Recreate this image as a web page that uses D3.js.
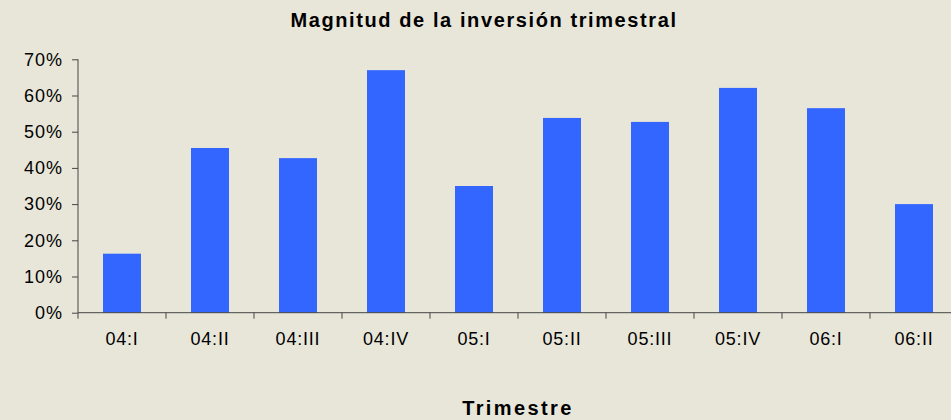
<!DOCTYPE html>
<html>
<head>
<meta charset="utf-8">
<script src="https://cdn.jsdelivr.net/npm/d3@7"></script>
<style>
  body { margin: 0; background: #e8e6d9; }
  svg { display: block; }
  text { font-family: "Liberation Sans", Arial, sans-serif; fill: #000; }
</style>
</head>
<body>
<svg id="chart"></svg>
<script>
// data
const categories = ['04:I', '04:II', '04:III', '04:IV', '05:I', '05:II', '05:III', '05:IV', '06:I', '06:II'];
const values = [0.163, 0.455, 0.427, 0.670, 0.350, 0.538, 0.527, 0.621, 0.565, 0.300];
const yTicks = [0, 0.1, 0.2, 0.3, 0.4, 0.5, 0.6, 0.7];
const title = 'Magnitud de la inversión trimestral';
const xTitle = 'Trimestre';

// set up constants
const width = 951;
const height = 420;
const margin = { top: 59.3, left: 78, bottom: 107.3 };
const step = 88;

const svg = d3.select('#chart')
  .attr('width', width)
  .attr('height', height);

svg.append('rect')
  .attr('width', width)
  .attr('height', height)
  .attr('fill', '#e8e6d9');

// scales (plot runs past the right edge, like the original)
const xBand = d3.scaleBand()
  .domain(categories)
  .range([margin.left, margin.left + step * categories.length])
  .paddingInner(50 / 88)
  .paddingOuter(25 / 88);

const xEdge = d3.scaleBand()
  .domain(categories)
  .range([margin.left, margin.left + step * categories.length]);

const yScale = d3.scaleLinear()
  .domain([0, 0.7])
  .range([height - margin.bottom, margin.top]);

// bars
svg.selectAll('.bar')
  .data(values)
  .enter()
  .append('rect')
  .attr('class', 'bar')
  .attr('x', (d, i) => xBand(categories[i]))
  .attr('width', xBand.bandwidth())
  .attr('y', d => yScale(d))
  .attr('height', d => yScale(0) - yScale(d))
  .attr('fill', '#3366ff');

// y axis
const yAxis = d3.axisLeft(yScale)
  .tickValues(yTicks)
  .tickFormat(d3.format('.0%'))
  .tickSize(6)
  .tickPadding(9);

const gy = svg.append('g')
  .attr('transform', `translate(${margin.left},0)`)
  .call(yAxis);
gy.select('.domain').attr('stroke', '#444').attr('d', `M0,${yScale(0)}V${yScale(0.7)}`);
gy.selectAll('.tick line').attr('stroke', '#444');
gy.selectAll('.tick text')
  .attr('font-size', 18)
  .attr('letter-spacing', 1)
  .attr('fill', '#000');

// x axis: labels at centres, ticks at category edges
const xAxis = d3.axisBottom(xBand)
  .tickSize(0)
  .tickPadding(20);

const gx = svg.append('g')
  .attr('transform', `translate(0,${yScale(0)})`)
  .call(xAxis);
gx.select('.domain').attr('stroke', '#444').attr('d', `M${margin.left},0H${width}`);
gx.selectAll('.tick text')
  .attr('font-size', 18)
  .attr('letter-spacing', 0.8)
  .attr('fill', '#000');

gx.selectAll('.edge')
  .data(categories)
  .enter()
  .append('line')
  .attr('class', 'edge')
  .attr('x1', d => xEdge(d))
  .attr('x2', d => xEdge(d))
  .attr('y1', 0)
  .attr('y2', 6)
  .attr('stroke', '#444');

// titles
svg.append('text')
  .attr('x', 484)
  .attr('y', 27)
  .attr('text-anchor', 'middle')
  .attr('font-size', 20)
  .attr('font-weight', 'bold')
  .attr('letter-spacing', 1.6)
  .text(title);

svg.append('text')
  .attr('x', 518)
  .attr('y', 415)
  .attr('text-anchor', 'middle')
  .attr('font-size', 20)
  .attr('font-weight', 'bold')
  .attr('letter-spacing', 2.4)
  .text(xTitle);
</script>
</body>
</html>
